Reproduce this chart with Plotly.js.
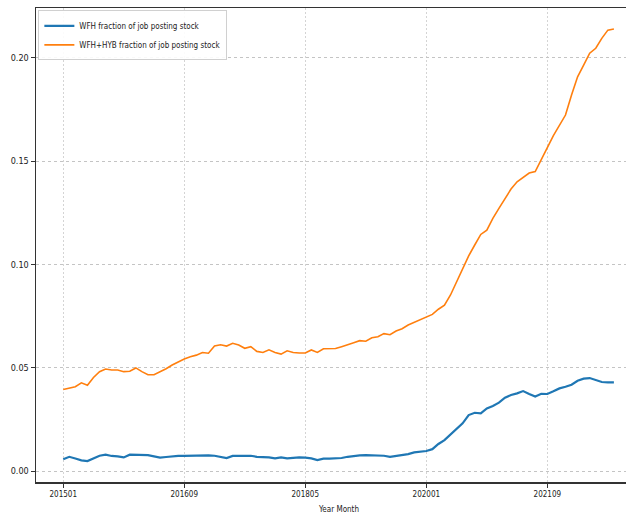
<!DOCTYPE html>
<html>
<head>
<meta charset="utf-8">
<script src="https://cdn.plot.ly/plotly-3.0.1.min.js"></script>
<style>html,body{margin:0;padding:0;background:#fff;}#chart{width:626px;height:516px;}</style>
</head>
<body>
<div id="chart"></div>
<script>
const months = [
 '201501','201502','201503','201504','201505','201506','201507','201508','201509','201510','201511','201512',
 '201601','201602','201603','201604','201605','201606','201607','201608','201609','201610','201611','201612',
 '201701','201702','201703','201704','201705','201706','201707','201708','201709','201710','201711','201712',
 '201801','201802','201803','201804','201805','201806','201807','201808','201809','201810','201811','201812',
 '201901','201902','201903','201904','201905','201906','201907','201908','201909','201910','201911','201912',
 '202001','202002','202003','202004','202005','202006','202007','202008','202009','202010','202011','202012',
 '202101','202102','202103','202104','202105','202106','202107','202108','202109','202110','202111','202112',
 '202201','202202','202203','202204','202205','202206','202207','202208'
];
const tickLabels = ['201501','201609','201805','202001','202109'];

const wfh = [
 0.0057,0.0069,0.0061,0.0052,0.0048,0.0061,0.0074,0.0079,0.0073,0.0071,0.0066,0.0079,
 0.0079,0.0076,0.0077,0.0071,0.0065,0.0068,0.0071,0.0073,0.0073,0.0074,0.0074,0.0074,
 0.0076,0.0074,0.0069,0.0063,0.0073,0.0073,0.0076,0.0074,0.0069,0.0068,0.0066,0.0061,
 0.0066,0.0061,0.0065,0.0066,0.0065,0.0061,0.0053,0.0060,0.0060,0.0060,0.0063,0.0069,
 0.0073,0.0076,0.0077,0.0076,0.0074,0.0074,0.0069,0.0074,0.0076,0.0082,0.0090,0.0095,
 0.0097,0.0106,0.0131,0.0150,0.0178,0.0207,0.0231,0.0271,0.0282,0.0279,0.0303,0.0315,
 0.0331,0.0355,0.0368,0.0376,0.0387,0.0373,0.0361,0.0374,0.0373,0.0386,0.0400,0.0408,
 0.0418,0.0437,0.0447,0.0450,0.0439,0.0431,0.0429,0.0429
];
const wfhHyb = [
 0.0395,0.0403,0.0408,0.0427,0.0415,0.0453,0.0481,0.0494,0.0489,0.0489,0.0481,0.0483,
 0.0499,0.0481,0.0466,0.0466,0.0479,0.0495,0.0513,0.0529,0.0542,0.0553,0.0561,0.0574,
 0.0570,0.0605,0.0611,0.0605,0.0618,0.0610,0.0594,0.0602,0.0579,0.0574,0.0587,0.0574,
 0.0566,0.0582,0.0574,0.0571,0.0571,0.0586,0.0574,0.0592,0.0591,0.0593,0.0602,0.0613,
 0.0621,0.0631,0.0628,0.0645,0.0650,0.0665,0.0660,0.0678,0.0689,0.0707,0.0720,0.0736,
 0.0747,0.0758,0.0783,0.0803,0.0852,0.0916,0.0981,0.1041,0.1094,0.1145,0.1166,0.1223,
 0.1271,0.1320,0.1365,0.1400,0.1420,0.1442,0.1449,0.1510,0.1565,0.1623,0.1675,0.1723,
 0.1820,0.1908,0.1965,0.2022,0.2046,0.2094,0.2134,0.2139
];

const fam = 'DejaVu Sans Condensed, DejaVu Sans, sans-serif';
const yFont = {family: fam, size: 9, color: '#222'};
const smallFont = {family: fam, size: 8, color: '#222'};

const traces = [
 {x: months, y: wfh, type: 'scatter', mode: 'lines', name: 'WFH fraction of job posting stock',
  line: {color: '#1f77b4', width: 2.2}},
 {x: months, y: wfhHyb, type: 'scatter', mode: 'lines', name: 'WFH+HYB fraction of job posting stock',
  line: {color: '#ff7f0e', width: 1.6}}
];

const layout = {
 width: 626, height: 516,
 margin: {l: 36, r: 0, t: 8, b: 34},
 paper_bgcolor: '#fff', plot_bgcolor: '#fff',
 font: yFont,
 showlegend: true,
 legend: {x: 0.004, y: 0.995, xanchor: 'left', yanchor: 'top', bgcolor: 'rgba(255,255,255,0.9)',
  bordercolor: '#d0d0d0', borderwidth: 1, font: smallFont, tracegroupgap: 0, itemwidth: 30},
 xaxis: {type: 'category', range: [-4.5, 93.0], tickmode: 'array', tickvals: tickLabels, ticktext: tickLabels,
  showgrid: true, gridcolor: '#d4d4d4', griddash: '2px,2px', gridwidth: 1,
  showline: true, linecolor: '#333', linewidth: 1.5, mirror: true,
  ticks: 'outside', ticklen: 4, tickcolor: '#333', tickfont: smallFont, zeroline: false},
 yaxis: {range: [-0.0053, 0.2241], tickmode: 'array', tickvals: [0, 0.05, 0.10, 0.15, 0.20],
  ticktext: ['0.00','0.05','0.10','0.15','0.20'],
  showgrid: true, gridcolor: '#c4c4c4', griddash: 'dot', gridwidth: 1,
  showline: true, linecolor: '#333', linewidth: 1.5, mirror: true,
  ticks: 'outside', ticklen: 4, tickcolor: '#333', tickfont: yFont, zeroline: false},
 annotations: [{text: 'Year Month', xref: 'paper', yref: 'paper', x: 0.512, y: 0, yshift: -21,
  xanchor: 'center', yanchor: 'top', showarrow: false, font: smallFont}]
};

Plotly.newPlot('chart', traces, layout, {displayModeBar: false, staticPlot: true});
</script>
</body>
</html>
